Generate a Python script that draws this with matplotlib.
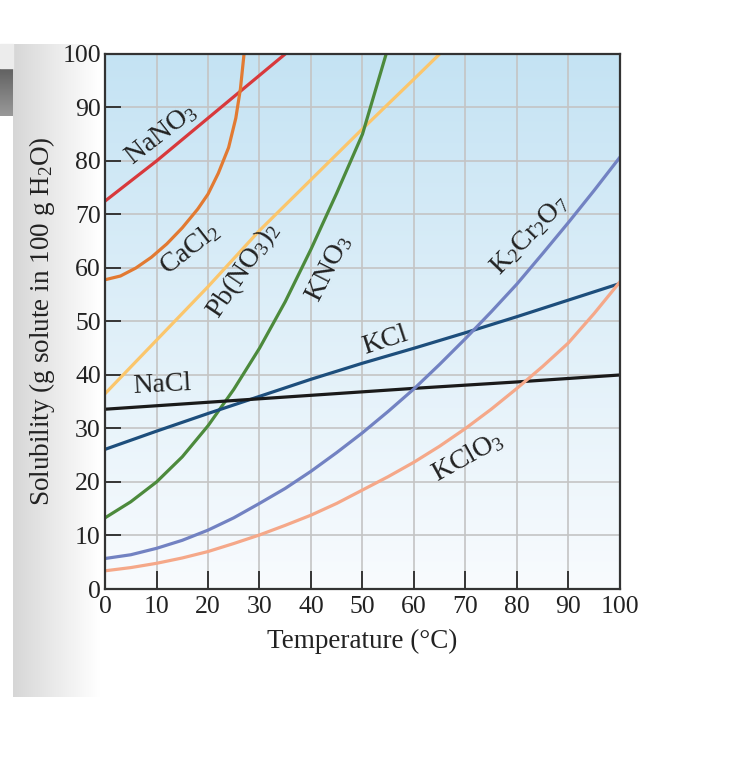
import numpy as np
import matplotlib.pyplot as plt

plt.rcParams['font.family'] = ['Liberation Serif', 'DejaVu Serif']
plt.rcParams['mathtext.fontset'] = 'custom'
plt.rcParams['mathtext.rm'] = 'Liberation Serif'
plt.rcParams['mathtext.it'] = 'Liberation Serif'

# Solubility curves (temperature in C, g per 100 g water)
nano3_t = [0, 10, 20, 30, 40]
nano3_s = [72.5, 80, 88, 96, 104]
cacl2_t = [0, 3, 6, 9, 12, 15, 18, 20, 22, 24, 25.4, 26.3, 27, 27.3]
cacl2_s = [57.8, 58.5, 60, 62, 64.5, 67.5, 71, 73.8, 77.7, 82.5, 88, 93.5, 100, 104]
pbno32_t = [0, 10, 20, 30, 40, 50, 60, 65, 70]
pbno32_s = [36.5, 46.5, 56.5, 67, 76.5, 86, 95.3, 100, 104.5]
kno3_t = [0, 5, 10, 15, 20, 25, 30, 35, 40, 45, 50, 54.6, 57]
kno3_s = [13.3, 16.3, 20, 24.7, 30.5, 37.3, 45, 53.7, 63.5, 74, 85, 100, 108]
kcl_t = [0, 10, 20, 30, 40, 50, 60, 70, 80, 90, 100]
kcl_s = [26.1, 29.5, 32.8, 36, 39.2, 42.2, 45, 47.9, 50.9, 54, 57.1]
nacl_t = [0, 20, 40, 60, 80, 100]
nacl_s = [33.6, 34.9, 36.2, 37.5, 38.7, 40]
k2cr2o7_t = [0, 5, 10, 15, 20, 25, 30, 35, 40, 45, 50, 55, 60, 65, 70, 75, 80, 85, 90, 95, 100]
k2cr2o7_s = [5.7, 6.4, 7.6, 9.1, 11, 13.3, 16, 18.8, 22, 25.5, 29.2, 33.2, 37.4, 42, 46.8,
             51.8, 57, 62.7, 68.5, 74.5, 80.7]
kclo3_t = [0, 5, 10, 15, 20, 25, 30, 35, 40, 45, 50, 55, 60, 65, 70, 75, 80, 85, 90, 95, 100]
kclo3_s = [3.4, 4.0, 4.8, 5.8, 7.0, 8.5, 10.1, 11.9, 13.8, 16, 18.5, 21, 23.7, 26.7, 30,
           33.6, 37.5, 41.6, 46, 51.5, 57.4]

ticks = np.arange(0, 101, 10)

fig = plt.figure(figsize=(7.38, 7.6), dpi=100)

# page background: grey strip on the left like the scanned page
bg = fig.add_axes([0, 0, 1, 1], zorder=-5)
bg.set_xlim(0, 738)
bg.set_ylim(760, 0)
bg.axis('off')
strip = np.linspace(0.78, 1.0, 100)[None, :] ** 0.7
bg.imshow(np.dstack([strip] * 3), extent=[13, 100, 697, 44], aspect='auto', zorder=0)
bar = np.linspace(0.38, 0.6, 50)[:, None] * np.ones((1, 10))
bg.imshow(np.dstack([bar] * 3), extent=[0, 13, 116, 68], aspect='auto', zorder=0)
bg.fill_between([0, 13], 44, 68, color='#ececec', zorder=0)

ax = fig.add_axes([0.1423, 0.225, 0.6977, 0.704])
grad = np.linspace(0, 1, 256)[:, None]
top = np.array([0.77, 0.89, 0.955])
bot = np.array([0.975, 0.985, 0.995])
img = top[None, None, :] * (1 - grad[:, :, None]) + bot[None, None, :] * grad[:, :, None]
ax.imshow(img, extent=[0, 100, 0, 100], aspect='auto', zorder=0)

ax.set_xlim(0, 100)
ax.set_ylim(0, 100)
ax.set_xticks(ticks)
ax.set_yticks(ticks)
ax.grid(True, color='#c4c4c4', linewidth=1.2, zorder=1)
ax.set_axisbelow(False)

lw = 2.3
ax.plot(nano3_t, nano3_s, color='#d8393c', lw=lw, zorder=3)
ax.plot(cacl2_t, cacl2_s, color='#e27a32', lw=lw, zorder=3)
ax.plot(pbno32_t, pbno32_s, color='#fbc66c', lw=lw, zorder=3)
ax.plot(kno3_t, kno3_s, color='#4c8a3c', lw=lw, zorder=3)
ax.plot(kcl_t, kcl_s, color='#1d4e7c', lw=lw, zorder=3)
ax.plot(nacl_t, nacl_s, color='#1a1a1a', lw=lw, zorder=3)
ax.plot(k2cr2o7_t, k2cr2o7_s, color='#7282c2', lw=lw, zorder=3)
ax.plot(kclo3_t, kclo3_s, color='#f5a889', lw=lw, zorder=3)

lab = dict(fontsize=20, color='#222222', ha='center', va='center', zorder=4)
ax.text(10.9, 85.0, r'NaNO$_3$', rotation=38, **lab)
ax.text(16.4, 63.6, r'CaCl$_2$', rotation=38, **lab)
ax.text(26.8, 59.6, r'Pb(NO$_3$)$_2$', rotation=56, **lab)
ax.text(43.4, 60.0, r'KNO$_3$', rotation=63, **lab)
ax.text(54.5, 46.4, 'KCl', rotation=18, **lab)
ax.text(11.1, 38.2, 'NaCl', rotation=3, **lab)
ax.text(82.4, 66.2, r'K$_2$Cr$_2$O$_7$', rotation=46, **lab)
ax.text(70.4, 24.7, r'KClO$_3$', rotation=29, **lab)

for s in ['top', 'right', 'bottom', 'left']:
    ax.spines[s].set_color('#333333')
    ax.spines[s].set_linewidth(1.6)
    ax.spines[s].set_zorder(5)
ax.tick_params(axis='both', direction='in', width=1.3, colors='#2a2a2a',
               labelsize=18.5, labelcolor='#222222')
ax.tick_params(axis='x', length=13, pad=5)
ax.tick_params(axis='y', length=11.5, pad=3)

ax.set_xlabel('Temperature (°C)', fontsize=19.5, color='#222222', labelpad=8)
ax.set_ylabel(r'Solubility (g solute in 100 g H$_2$O)', fontsize=19.5,
              color='#222222', labelpad=4)

fig.savefig('out.png', dpi=100)
